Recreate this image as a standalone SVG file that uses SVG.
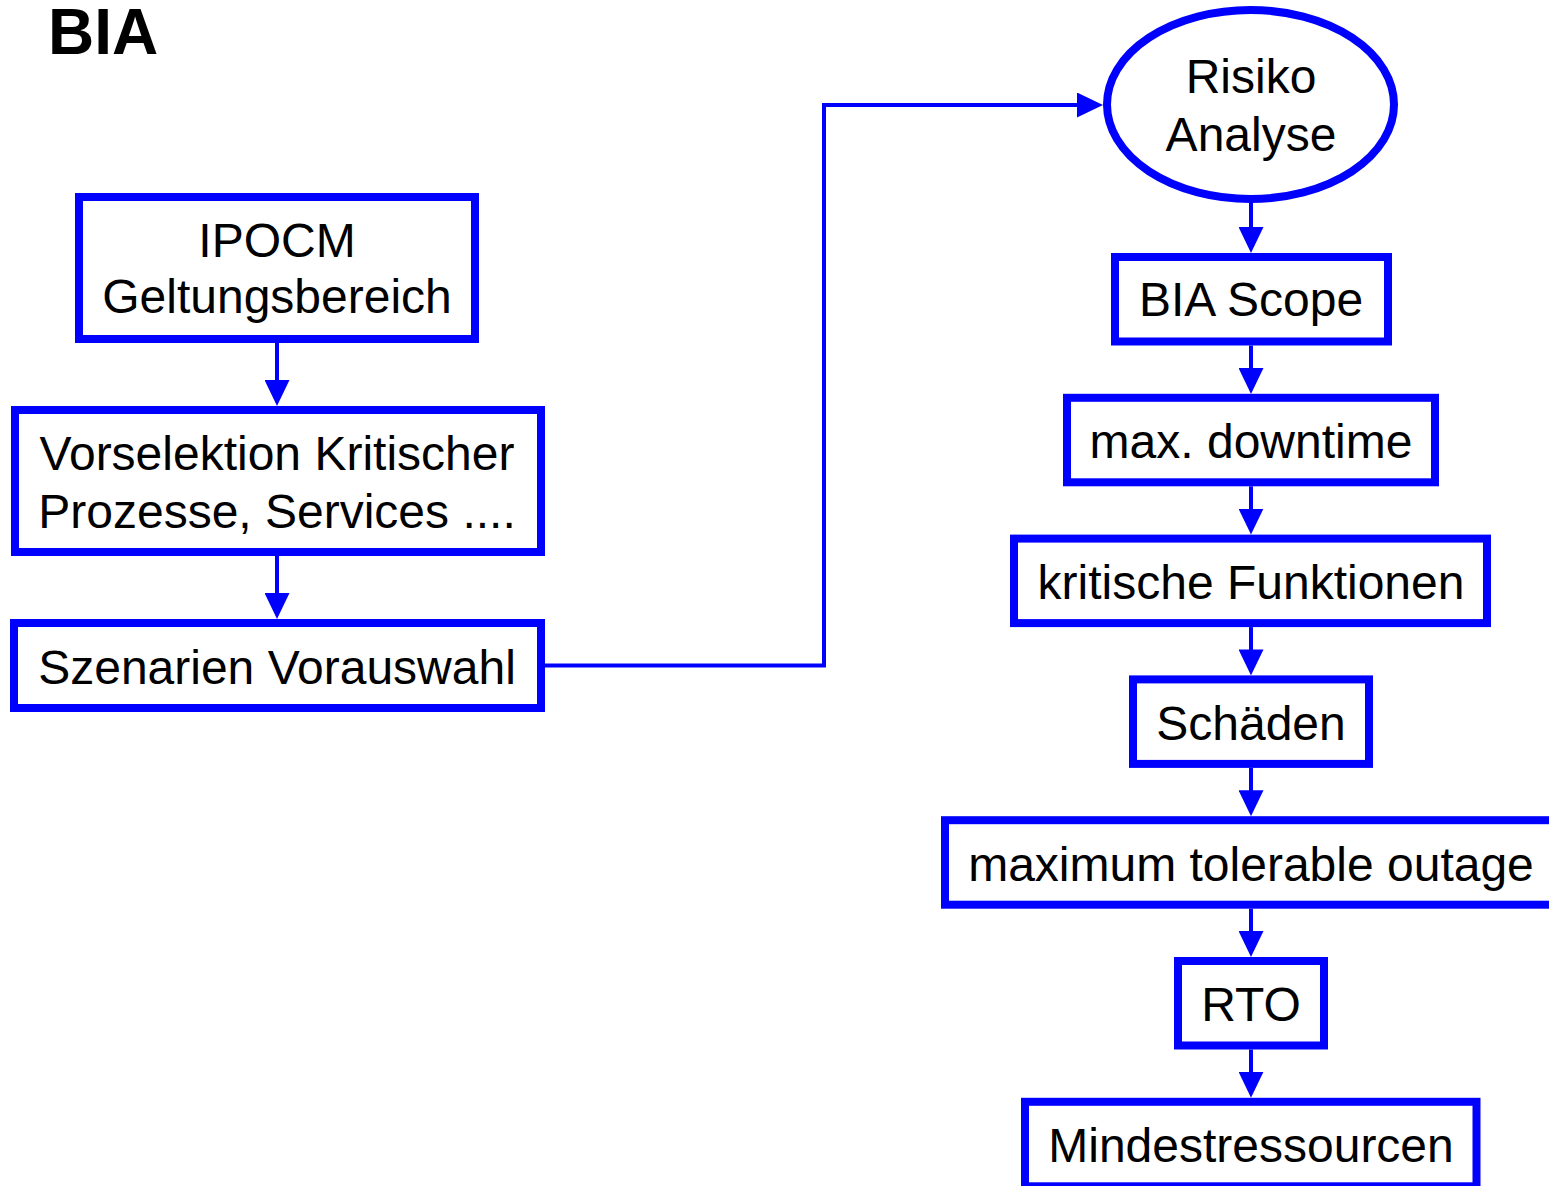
<svg xmlns="http://www.w3.org/2000/svg" width="1549" height="1186" viewBox="0 0 1549 1186">
  <style>
    .box { fill: #ffffff; stroke: #0000ff; stroke-width: 8; }
    .lbl { font-family: "Liberation Sans", Arial, sans-serif; font-size: 48px; fill: #000000; text-anchor: middle; }
    .title { font-family: "Liberation Sans", Arial, sans-serif; font-size: 64px; font-weight: bold; fill: #000000; }
    .conn { fill: none; stroke: #0000ff; stroke-width: 4; }
  </style>
  <defs>
    <marker id="arrow" markerUnits="userSpaceOnUse" markerWidth="26" markerHeight="25" refX="6" refY="12.5" orient="auto">
      <path d="M0,0 L26,12.5 L0,25 z" fill="#0000ff"/>
    </marker>
  </defs>
  <rect width="1549" height="1186" fill="#ffffff"/>
  <text class="title" x="48" y="54">BIA</text>

  <g id="connectors">
    <path class="conn" d="M277,343 V386" marker-end="url(#arrow)"/>
    <path class="conn" d="M277,556 V599" marker-end="url(#arrow)"/>
    <path class="conn" d="M545,665.5 H824 V105 H1083" marker-end="url(#arrow)"/>
    <path class="conn" d="M1251,203 V233" marker-end="url(#arrow)"/>
    <path class="conn" d="M1251,345.5 V374" marker-end="url(#arrow)"/>
    <path class="conn" d="M1251,486.3 V514.6" marker-end="url(#arrow)"/>
    <path class="conn" d="M1251,627.1 V655.4" marker-end="url(#arrow)"/>
    <path class="conn" d="M1251,767.9 V796.2" marker-end="url(#arrow)"/>
    <path class="conn" d="M1251,908.7 V937" marker-end="url(#arrow)"/>
    <path class="conn" d="M1251,1049.5 V1077.8" marker-end="url(#arrow)"/>
  </g>

  <g id="ipocm">
    <rect class="box" x="79" y="197" width="396" height="142"/>
    <text class="lbl" x="277" y="257">IPOCM</text>
    <text class="lbl" x="277" y="313">Geltungsbereich</text>
  </g>
  <g id="vorselektion">
    <rect class="box" x="15" y="410" width="526" height="142"/>
    <text class="lbl" x="277" y="470">Vorselektion Kritischer</text>
    <text class="lbl" x="277" y="528">Prozesse, Services ....</text>
  </g>
  <g id="szenarien">
    <rect class="box" x="14" y="623" width="527" height="85"/>
    <text class="lbl" x="277" y="684">Szenarien Vorauswahl</text>
  </g>

  <g id="risiko">
    <ellipse cx="1250.5" cy="104.5" rx="143.5" ry="94.5" fill="#ffffff" stroke="#0000ff" stroke-width="8"/>
    <text class="lbl" x="1251" y="93">Risiko</text>
    <text class="lbl" x="1251" y="151">Analyse</text>
  </g>
  <g id="bia-scope">
    <rect class="box" x="1115" y="257" width="273" height="84.5"/>
    <text class="lbl" x="1251" y="316">BIA Scope</text>
  </g>
  <g id="max-downtime">
    <rect class="box" x="1067" y="397.8" width="368" height="84.5"/>
    <text class="lbl" x="1251" y="457.5">max. downtime</text>
  </g>
  <g id="kritische-funktionen">
    <rect class="box" x="1014" y="538.6" width="473" height="84.5"/>
    <text class="lbl" x="1251" y="599">kritische Funktionen</text>
  </g>
  <g id="schaeden">
    <rect class="box" x="1133" y="679.4" width="236" height="84.5"/>
    <text class="lbl" x="1251" y="740">Schäden</text>
  </g>
  <g id="max-tolerable-outage">
    <rect class="box" x="945" y="820.2" width="612" height="84.5"/>
    <text class="lbl" x="1251" y="881">maximum tolerable outage</text>
  </g>
  <g id="rto">
    <rect class="box" x="1178" y="961" width="146" height="84.5"/>
    <text class="lbl" x="1251" y="1021">RTO</text>
  </g>
  <g id="mindestressourcen">
    <rect class="box" x="1025" y="1101.8" width="451.5" height="84.5"/>
    <text class="lbl" x="1251" y="1162">Mindestressourcen</text>
  </g>
</svg>
